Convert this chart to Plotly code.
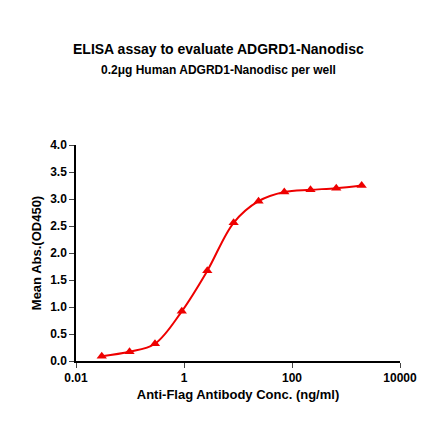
import plotly.graph_objects as go

conc = [0.030, 0.098, 0.29, 0.91, 2.7, 8.3, 24, 72, 220, 660, 1950]
od450 = [0.09, 0.17, 0.32, 0.92, 1.67, 2.56, 2.96, 3.13, 3.17, 3.20, 3.25]
xticks = [0.01, 1, 100, 10000]
xticktext = ["<b>0.01</b>", "<b>1</b>", "<b>100</b>", "<b>10000</b>"]
yticks = [0, 0.5, 1, 1.5, 2, 2.5, 3, 3.5, 4]

fig = go.Figure()
fig.add_trace(go.Scatter(x=conc, y=od450, mode="lines+markers",
    line=dict(color="#ee0000", width=2, shape="spline", smoothing=1.0),
    marker=dict(symbol="triangle-up", size=9, color="#ee0000")))
fig.update_layout(
    width=440, height=441, paper_bgcolor="white", plot_bgcolor="white",
    margin=dict(l=68, r=48, t=137, b=88), showlegend=False,
    font=dict(family="Liberation Sans, Arial", color="black"),
)
fig.add_annotation(text="<b>ELISA assay to evaluate ADGRD1-Nanodisc</b>", xref="paper", yref="paper",
    x=0.44, y=1.49, showarrow=False, font=dict(size=14))
fig.add_annotation(text="<b>0.2μg Human ADGRD1-Nanodisc per well</b>", xref="paper", yref="paper",
    x=0.44, y=1.39, showarrow=False, font=dict(size=12))
fig.update_xaxes(type="log", range=[-2, 4], tickvals=xticks, ticktext=xticktext,
    showline=True, linecolor="black", linewidth=1.5, automargin=False,
    ticks="outside", ticklen=5, showgrid=False, zeroline=False,
    tickfont=dict(size=12),
    title=dict(text="<b>Anti-Flag Antibody Conc. (ng/ml)</b>", font=dict(size=13), standoff=6))
fig.update_yaxes(range=[0, 4], tickvals=yticks, ticktext=[f"<b>{v:.1f}</b>" for v in yticks],
    showline=True, linecolor="black", linewidth=1.5, automargin=False,
    ticks="outside", ticklen=5, showgrid=False, zeroline=False,
    tickfont=dict(size=12),
    title=dict(text="<b>Mean Abs.(OD450)</b>", font=dict(size=13), standoff=6))
fig.write_html("out.html")
